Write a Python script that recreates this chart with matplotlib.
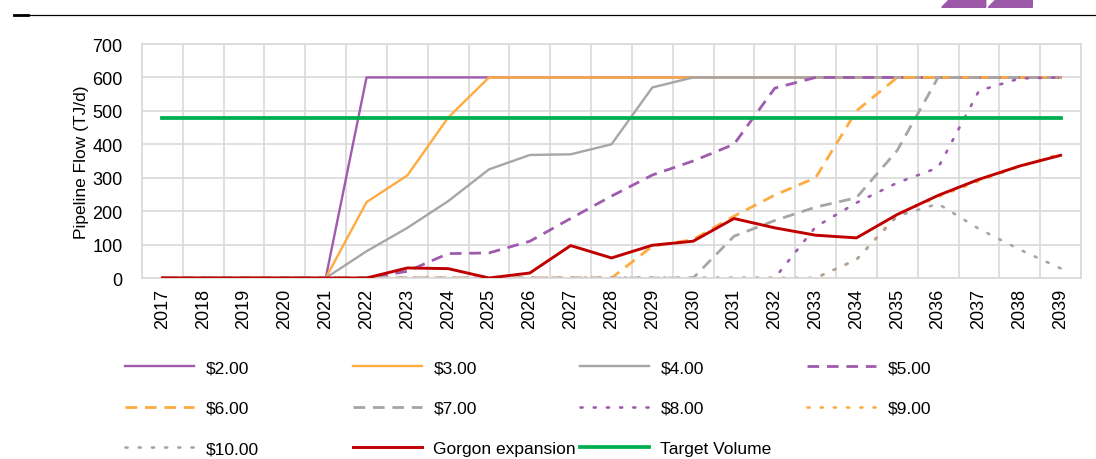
import matplotlib
matplotlib.use("Agg")
import matplotlib.pyplot as plt
from matplotlib.lines import Line2D
from matplotlib.patches import Polygon
import numpy as np

plt.rcParams['font.family'] = ['Liberation Sans', 'DejaVu Sans']

years = [str(y) for y in range(2017, 2040)]

# pipeline flow (TJ/d) by gas price scenario
p2 = [0, 0, 0, 0, 0, 600, 600, 600, 600, 600, 600, 600, 600, 600, 600, 600, 600, 600, 600, 600, 600, 600, 600]
p3 = [0, 0, 0, 0, 0, 227, 307, 480, 600, 600, 600, 600, 600, 600, 600, 600, 600, 600, 600, 600, 600, 600, 600]
p4 = [0, 0, 0, 0, 0, 80, 150, 230, 325, 368, 370, 400, 570, 600, 600, 600, 600, 600, 600, 600, 600, 600, 600]
p5 = [0, 0, 0, 0, 0, 0, 20, 73, 75, 110, 178, 245, 308, 350, 400, 568, 600, 600, 600, 600, 600, 600, 600]
p6 = [0, 0, 0, 0, 0, 0, 0, 0, 0, 0, 0, 0, 95, 115, 185, 248, 300, 500, 600, 600, 600, 600, 600]
p7 = [0, 0, 0, 0, 0, 0, 0, 0, 0, 0, 0, 0, 0, 0, 125, 172, 212, 240, 382, 600, 600, 600, 600]
p8 = [0, 0, 0, 0, 0, 0, 0, 0, 0, 0, 0, 0, 0, 0, 0, 0, 153, 225, 285, 330, 560, 597, 600]
p9 = [0, 0, 0, 0, 0, 0, 0, 0, 0, 0, 0, 0, 0, 0, 0, 0, 0, 55, 190, 243, 290, 334, 372]
p10 = [0, 0, 0, 0, 0, 0, 0, 0, 0, 0, 0, 0, 0, 0, 0, 0, 0, 55, 185, 222, 147, 85, 29]
gorgon = [0, 0, 0, 0, 0, 0, 30, 28, 0, 15, 97, 60, 98, 110, 178, 150, 128, 120, 190, 247, 295, 335, 367]
target = [480] * len(years)

purple = '#A05AAE'
orange = '#FFAB40'
grey = '#A6A6A6'
red = '#C00000'
green = '#00B050'

fig = plt.figure(figsize=(10.96, 4.60), dpi=100)
ax = fig.add_axes([142/1096, 1 - 279/460, (1081 - 142)/1096, (279 - 45)/460])

x = np.arange(len(years))
dash = (0, (4.2, 2.8))
dot = (0, (0.8, 4.2))

series = [
    ('$2.00', p2, purple, '-', 1.7),
    ('$3.00', p3, orange, '-', 1.7),
    ('$4.00', p4, grey, '-', 1.7),
    ('$5.00', p5, purple, dash, 2.0),
    ('$6.00', p6, orange, dash, 2.0),
    ('$7.00', p7, grey, dash, 2.0),
    ('$8.00', p8, purple, dot, 1.9),
    ('$9.00', p9, orange, dot, 1.9),
    ('$10.00', p10, grey, dot, 1.9),
]
handles = {}
for lab, vals, col, ls, lw in series:
    h, = ax.plot(x, vals, color=col, linestyle=ls, linewidth=lw, label=lab,
                 dash_capstyle='round' if ls is dot else 'butt')
    handles[lab] = h
h, = ax.plot(x, gorgon, color=red, linewidth=2.1, label='Gorgon expansion', zorder=5)
handles['Gorgon expansion'] = h
h, = ax.plot(x, target, color=green, linewidth=2.7, label='Target Volume', zorder=4)
handles['Target Volume'] = h

ax.set_xlim(-0.5, len(years) - 0.5)
ax.set_ylim(0, 700)
ax.set_yticks(range(0, 701, 100))
ax.set_xticks(x)
ax.set_xticklabels(years, rotation=90, fontsize=13)
ax.set_xticks(np.arange(-0.5, len(years), 1), minor=True)
ax.tick_params(axis='y', labelsize=13, length=0, pad=14)
ax.tick_params(axis='x', which='both', length=0, pad=7)
ax.grid(True, which='major', axis='y', color='#D9D9D9', linewidth=1.2)
ax.grid(True, which='minor', axis='x', color='#D9D9D9', linewidth=1.2)
ax.set_axisbelow(True)
for s in ax.spines.values():
    s.set_color('#D9D9D9')
    s.set_linewidth(1.2)
ax.set_ylabel('Pipeline Flow (TJ/d)', fontsize=12.5, labelpad=2)

# legend: one block per column, laid out on the page like the source
cols = [['$2.00', '$6.00', '$10.00'],
        ['$3.00', '$7.00', 'Gorgon expansion'],
        ['$4.00', '$8.00', 'Target Volume'],
        ['$5.00', '$9.00']]
col_x = [125, 353, 580, 807]
for cx, labs in zip(col_x, cols):
    fig.legend([handles[l] for l in labs], labs, loc='upper left',
               bbox_to_anchor=(cx/1096, 1 - 361/460), frameon=False,
               fontsize=12.5, handlelength=3.95, handletextpad=0.68,
               labelspacing=1.46, borderpad=0, borderaxespad=0)

# header decoration
fig.add_artist(Line2D([14/1096, 1], [1 - 15.5/460] * 2, color='black', linewidth=0.9))
fig.add_artist(Line2D([14/1096, 28/1096], [1 - 16/460] * 2, color='black', linewidth=2.0))
for x0 in [941.7, 988.3]:
    pts = [(x0, 8.3), (x0 + 8.3, 0), (x0 + 44, 0), (x0 + 44, 8.3)]
    fig.add_artist(Polygon([(px/1096, 1 - py/460) for px, py in pts],
                           closed=True, color='#9B57A8', transform=fig.transFigure))

fig.savefig('out.png', dpi=100)
